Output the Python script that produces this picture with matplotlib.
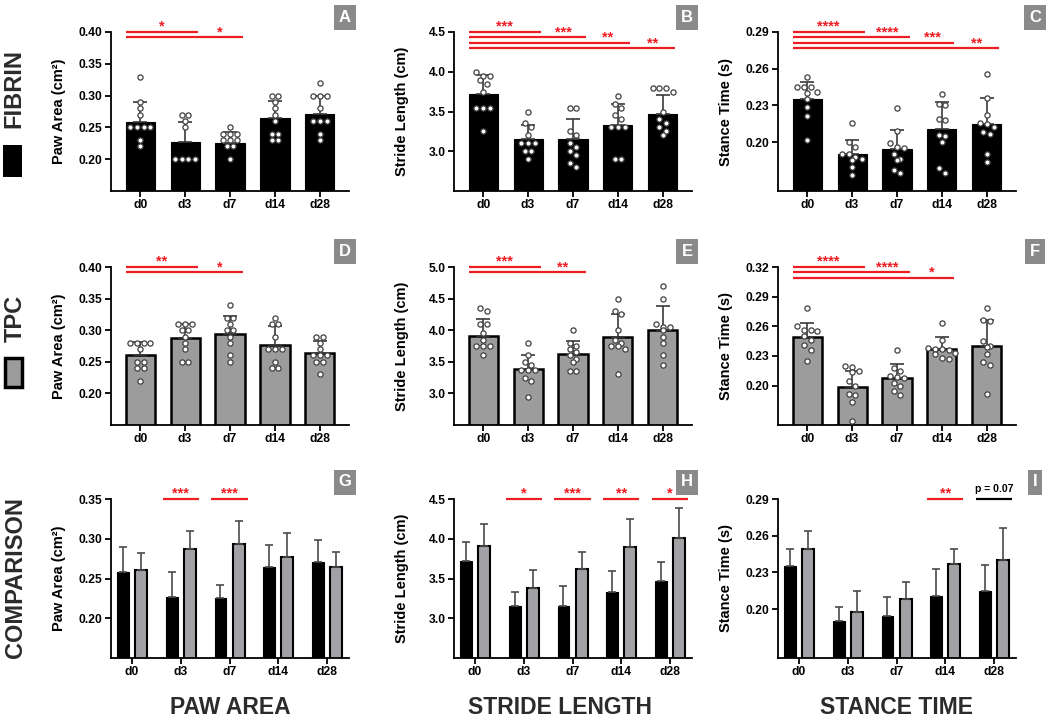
import numpy as np
import matplotlib
matplotlib.use("Agg")
import matplotlib.pyplot as plt
from matplotlib.patches import Rectangle

plt.rcParams["font.family"] = ["Liberation Sans", "DejaVu Sans"]
plt.rcParams["font.weight"] = "bold"

# DATA

DAYS = ["d0", "d3", "d7", "d14", "d28"]

FIB_PAW_MEAN = [0.258, 0.227, 0.226, 0.264, 0.271]
FIB_PAW_SD = [0.032, 0.031, 0.016, 0.028, 0.028]
TPC_PAW_MEAN = [0.261, 0.287, 0.294, 0.277, 0.264]
TPC_PAW_SD = [0.021, 0.023, 0.028, 0.030, 0.019]

FIB_STRIDE_MEAN = [3.72, 3.15, 3.15, 3.33, 3.47]
FIB_STRIDE_SD = [0.245, 0.18, 0.25, 0.27, 0.235]
TPC_STRIDE_MEAN = [3.91, 3.38, 3.62, 3.89, 4.01]
TPC_STRIDE_SD = [0.27, 0.23, 0.21, 0.36, 0.38]

FIB_STANCE_MEAN = [0.235, 0.190, 0.194, 0.211, 0.215]
FIB_STANCE_SD = [0.0145, 0.012, 0.016, 0.0215, 0.021]
TPC_STANCE_MEAN = [0.249, 0.198, 0.208, 0.237, 0.240]
TPC_STANCE_SD = [0.0145, 0.017, 0.014, 0.012, 0.026]

# individual animals
FIB_PAW_PTS = [
    [0.33, 0.29, 0.28, 0.27, 0.25, 0.25, 0.25, 0.25, 0.23, 0.22],
    [0.27, 0.27, 0.26, 0.25, 0.20, 0.20, 0.20, 0.20],
    [0.25, 0.24, 0.24, 0.24, 0.23, 0.23, 0.23, 0.22, 0.22, 0.20],
    [0.30, 0.30, 0.29, 0.28, 0.27, 0.26, 0.24, 0.24, 0.23, 0.23],
    [0.32, 0.30, 0.30, 0.30, 0.28, 0.26, 0.26, 0.26, 0.24, 0.23],
]
FIB_STRIDE_PTS = [
    [4.0, 3.95, 3.95, 3.9, 3.85, 3.75, 3.55, 3.55, 3.55, 3.25],
    [3.5, 3.35, 3.3, 3.2, 3.1, 3.1, 3.1, 3.0, 3.0, 2.9],
    [3.55, 3.55, 3.25, 3.2, 3.1, 3.05, 3.0, 2.95, 2.85, 2.8],
    [3.7, 3.6, 3.55, 3.45, 3.4, 3.3, 3.3, 3.3, 2.9, 2.9],
    [3.8, 3.8, 3.8, 3.75, 3.5, 3.4, 3.35, 3.3, 3.25, 3.2],
]
FIB_STANCE_PTS = [
    [0.253, 0.245, 0.245, 0.245, 0.241, 0.240, 0.235, 0.229, 0.221, 0.202],
    [0.216, 0.200, 0.196, 0.190, 0.190, 0.188, 0.186, 0.185, 0.180, 0.173],
    [0.228, 0.209, 0.199, 0.196, 0.195, 0.190, 0.186, 0.185, 0.177, 0.175],
    [0.239, 0.231, 0.230, 0.219, 0.218, 0.206, 0.205, 0.200, 0.179, 0.175],
    [0.256, 0.236, 0.222, 0.216, 0.215, 0.212, 0.208, 0.207, 0.190, 0.184],
]
TPC_PAW_PTS = [
    [0.28, 0.28, 0.28, 0.28, 0.27, 0.25, 0.25, 0.24, 0.24, 0.22],
    [0.31, 0.31, 0.31, 0.30, 0.30, 0.29, 0.28, 0.27, 0.25, 0.25],
    [0.34, 0.32, 0.32, 0.31, 0.30, 0.30, 0.29, 0.28, 0.26, 0.25],
    [0.32, 0.31, 0.31, 0.29, 0.27, 0.27, 0.27, 0.25, 0.24, 0.24],
    [0.29, 0.29, 0.28, 0.27, 0.26, 0.26, 0.26, 0.25, 0.25, 0.23],
]
TPC_STRIDE_PTS = [
    [4.35, 4.3, 4.1, 4.1, 3.95, 3.85, 3.75, 3.75, 3.75, 3.6],
    [3.8, 3.6, 3.5, 3.45, 3.37, 3.37, 3.37, 3.25, 3.19, 2.95],
    [4.0, 3.8, 3.75, 3.7, 3.65, 3.6, 3.55, 3.5, 3.35, 3.35],
    [4.5, 4.3, 4.25, 4.0, 3.85, 3.8, 3.75, 3.75, 3.7, 3.3],
    [4.7, 4.5, 4.1, 4.05, 4.05, 4.0, 3.9, 3.8, 3.6, 3.45],
]
TPC_STANCE_PTS = [
    [0.278, 0.260, 0.256, 0.256, 0.255, 0.250, 0.246, 0.241, 0.236, 0.225],
    [0.220, 0.219, 0.215, 0.214, 0.205, 0.200, 0.191, 0.190, 0.183, 0.164],
    [0.236, 0.218, 0.215, 0.210, 0.209, 0.208, 0.203, 0.199, 0.194, 0.190],
    [0.263, 0.246, 0.238, 0.237, 0.237, 0.236, 0.233, 0.232, 0.228, 0.227],
    [0.278, 0.266, 0.265, 0.245, 0.240, 0.239, 0.232, 0.224, 0.221, 0.191],
]

# significance: (day index, stars); row 1/2 vs d0, row 3 fibrin vs tpc
SIG_A = [(1, "*"), (2, "*")]
SIG_B = [(1, "***"), (2, "***"), (3, "**"), (4, "**")]
SIG_C = [(1, "****"), (2, "****"), (3, "***"), (4, "**")]
SIG_D = [(1, "**"), (2, "*")]
SIG_E = [(1, "***"), (2, "**")]
SIG_F = [(1, "****"), (2, "****"), (3, "*")]
SIG_G = [(1, "***"), (2, "***")]
SIG_H = [(1, "*"), (2, "***"), (3, "**"), (4, "*")]
SIG_I = [(3, "**")]

# STYLE

W, H = 1050, 720
RED = "#ee1d23"
GREY = "#9c9c9c"
DARK = "#2b2b2b"
COL_X = [111, 454, 778]
COL_W = 238
ROW_Y = [(32, 191), (267, 425), (499, 658)]

fig = plt.figure(figsize=(W / 100, H / 100), dpi=100)


def make_ax(col, row):
    top, bot = ROW_Y[row]
    return fig.add_axes([COL_X[col] / W, 1 - bot / H, COL_W / W, (bot - top) / H])


def style(ax, ylim, yticks, fmt, ylabel, xlim, xt):
    ax.set_ylim(*ylim)
    ax.set_xlim(*xlim)
    ax.set_yticks(yticks)
    ax.set_yticklabels([fmt % v for v in yticks])
    ax.set_xticks(xt)
    ax.set_xticklabels(DAYS)
    for s in ["top", "right"]:
        ax.spines[s].set_visible(False)
    for s in ["left", "bottom"]:
        ax.spines[s].set_linewidth(1.3)
    ax.tick_params(width=1.3, length=4, labelsize=8.7, pad=2)
    ax.set_ylabel(ylabel, fontsize=10.5, fontweight="bold")
    ax.yaxis.set_label_coords(-0.19, 0.5)


def swarm_offsets(vals, thresh, step=0.15):
    vals = np.asarray(vals)
    order = np.argsort(-vals)
    offs = np.zeros(len(vals))
    groups = []
    for i in order:
        if groups and vals[groups[-1][0]] - vals[i] < thresh:
            groups[-1].append(i)
        else:
            groups.append([i])
    for g in groups:
        n = len(g)
        for k, i in enumerate(g):
            offs[i] = (k - (n - 1) / 2) * step
    return offs


def single(ax, means, sds, pts, color, ylim):
    x = np.arange(len(DAYS))
    ax.bar(x, means, 0.65, color=color, edgecolor="black",
           linewidth=1.8 if color != "black" else 0.8, zorder=2)
    ax.errorbar(x, means, yerr=[np.zeros(len(sds)), sds], fmt="none",
                ecolor="#3a3a3a", elinewidth=1.2, capsize=5.2, capthick=1.2, zorder=3)
    thresh = (ylim[1] - ylim[0]) * 5 / 159
    for i, p in enumerate(pts):
        xo = x[i] + swarm_offsets(p, thresh)
        ax.scatter(xo, p, s=14, facecolor="white", edgecolor="#404040",
                   linewidth=0.9, zorder=4, clip_on=False)


def stars(ax, x, y, lab, tr, color=RED):
    ax.text(x, y, lab, color=color, fontsize=10.5, fontweight="bold",
            ha="center", va="baseline", transform=tr)


def ladder(ax, sigs, y0=1.003, dy=0.0355):
    tr = ax.get_xaxis_transform()
    start = -0.32
    prev = start
    for k, (idx, lab) in enumerate(sigs):
        y = y0 - k * dy
        end = idx + 0.28
        ax.plot([start, end], [y, y], color=RED, lw=1.6, transform=tr,
                clip_on=False, solid_capstyle="butt")
        stars(ax, (prev + end) / 2, y + 0.006, lab, tr)
        prev = end


def pairs(ax, sigs):
    tr = ax.get_xaxis_transform()
    for idx, lab in sigs:
        ax.plot([idx - 0.37, idx + 0.37], [1.0, 1.0], color=RED, lw=1.6,
                transform=tr, clip_on=False, solid_capstyle="butt")
        stars(ax, idx, 1.01, lab, tr)


def compare(ax, m1, s1, m2, s2):
    x = np.arange(len(DAYS))
    ax.bar(x - 0.185, m1, 0.245, color="black", edgecolor="black", linewidth=0.8, zorder=2)
    ax.bar(x + 0.185, m2, 0.245, color="#a2a2a6", edgecolor="black", linewidth=1.5, zorder=2)
    for xx, m, s in [(x - 0.185, m1, s1), (x + 0.185, m2, s2)]:
        ax.errorbar(xx, m, yerr=[np.zeros(len(s)), s], fmt="none", ecolor="#4a4a4a",
                    elinewidth=1.2, capsize=3, capthick=1.2, zorder=3)


SINGLE_XLIM = (-0.65, 4.65)
COMP_XLIM = (-0.43, 4.45)
XT = np.arange(len(DAYS))

paw = ((0.15, 0.40), np.arange(0.20, 0.401, 0.05), "%.2f", "Paw Area (cm²)")
stride = ((2.5, 4.5), np.arange(3.0, 4.51, 0.5), "%.1f", "Stride Length (cm)")
stance = ((0.16, 0.29), np.arange(0.20, 0.291, 0.03), "%.2f", "Stance Time (s)")

# rows 1 and 2: fibrin, tpc
panels = [
    (0, 0, FIB_PAW_MEAN, FIB_PAW_SD, FIB_PAW_PTS, "black", paw, SIG_A),
    (1, 0, FIB_STRIDE_MEAN, FIB_STRIDE_SD, FIB_STRIDE_PTS, "black", stride, SIG_B),
    (2, 0, FIB_STANCE_MEAN, FIB_STANCE_SD, FIB_STANCE_PTS, "black", stance, SIG_C),
    (0, 1, TPC_PAW_MEAN, TPC_PAW_SD, TPC_PAW_PTS, GREY, paw, SIG_D),
    (1, 1, TPC_STRIDE_MEAN, TPC_STRIDE_SD, TPC_STRIDE_PTS, GREY,
     ((2.5, 5.0), np.arange(3.0, 5.01, 0.5), "%.1f", "Stride Length (cm)"), SIG_E),
    (2, 1, TPC_STANCE_MEAN, TPC_STANCE_SD, TPC_STANCE_PTS, GREY,
     ((0.16, 0.32), np.arange(0.20, 0.321, 0.03), "%.2f", "Stance Time (s)"), SIG_F),
]
for col, row, m, s, p, c, ax_def, sig in panels:
    ax = make_ax(col, row)
    single(ax, m, s, p, c, ax_def[0])
    style(ax, ax_def[0], ax_def[1], ax_def[2], ax_def[3], SINGLE_XLIM, XT)
    ladder(ax, sig)

# row 3: comparison
comp = [
    (0, FIB_PAW_MEAN, FIB_PAW_SD, TPC_PAW_MEAN, TPC_PAW_SD,
     ((0.15, 0.35), np.arange(0.20, 0.351, 0.05), "%.2f", "Paw Area (cm²)"), SIG_G),
    (1, FIB_STRIDE_MEAN, FIB_STRIDE_SD, TPC_STRIDE_MEAN, TPC_STRIDE_SD, stride, SIG_H),
    (2, FIB_STANCE_MEAN, FIB_STANCE_SD, TPC_STANCE_MEAN, TPC_STANCE_SD, stance, SIG_I),
]
for col, m1, s1, m2, s2, ax_def, sig in comp:
    ax = make_ax(col, 2)
    compare(ax, m1, s1, m2, s2)
    style(ax, ax_def[0], ax_def[1], ax_def[2], ax_def[3], COMP_XLIM, XT)
    pairs(ax, sig)
    if col == 2:
        tr = ax.get_xaxis_transform()
        ax.plot([4 - 0.37, 4 + 0.37], [1.0, 1.0], color="black", lw=1.6,
                transform=tr, clip_on=False, solid_capstyle="butt")
        ax.text(4, 1.03, "p = 0.07", fontsize=7.5, fontweight="bold",
                ha="center", va="bottom", transform=tr)

# panel letters
LETTERS = "ABCDEFGHI"
LETTER_X = [345, 687, 1035]
LETTER_Y = [17, 251, 482]
for i, let in enumerate(LETTERS):
    fig.text(LETTER_X[i % 3] / W, 1 - LETTER_Y[i // 3] / H, let, color="white",
             fontsize=12, fontweight="bold", ha="center", va="center",
             bbox=dict(boxstyle="square,pad=0.3", fc="#8a8a8a", ec="none"))

# row labels + legend swatches
fig.text(14 / W, 1 - 89 / H, "FIBRIN", rotation=90, fontsize=17, color=DARK,
         ha="center", va="center", fontweight="bold")
fig.text(15 / W, 1 - 318 / H, "TPC", rotation=90, fontsize=17, color=DARK,
         ha="center", va="center", fontweight="bold")
fig.text(16 / W, 1 - 578 / H, "COMPARISON", rotation=90, fontsize=17, color=DARK,
         ha="center", va="center", fontweight="bold")
fig.patches.append(Rectangle((3 / W, 1 - 177 / H), 19 / W, 32 / H, facecolor="black",
                             edgecolor="none", transform=fig.transFigure))
fig.patches.append(Rectangle((5 / W, 1 - 387 / H), 17 / W, 29 / H, facecolor=GREY,
                             edgecolor="black", linewidth=2.5, transform=fig.transFigure))

# column titles
for xc, t in [(230, "PAW AREA"), (560, "STRIDE LENGTH"), (897, "STANCE TIME")]:
    fig.text(xc / W, 1 - 708 / H, t, fontsize=16.5, color=DARK, ha="center",
             va="center", fontweight="bold")

fig.savefig("out.png", dpi=100)
